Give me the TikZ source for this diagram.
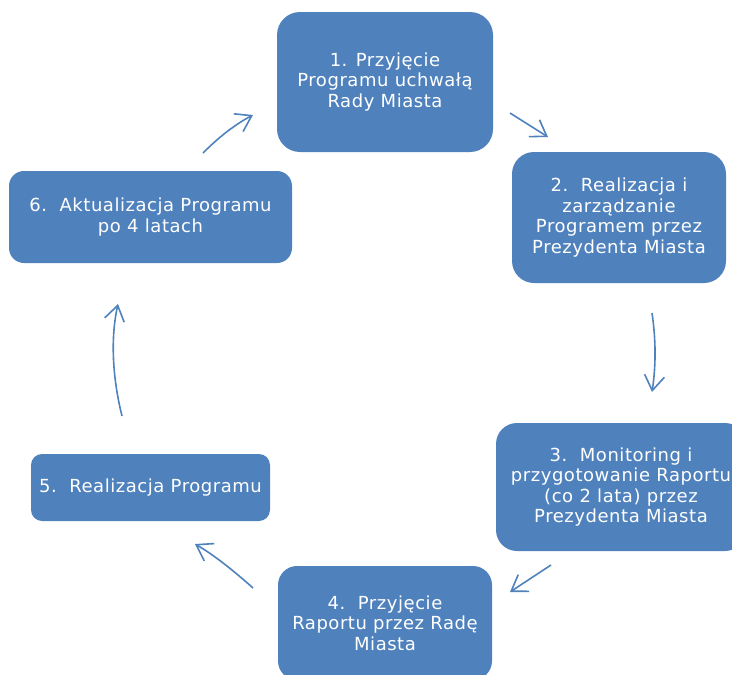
\documentclass[tikz,border=0pt]{standalone}
\usepackage{fontspec}
\setmainfont{DejaVu Sans}[LetterSpace=3]
\usetikzlibrary{arrows.meta}
\definecolor{cyclebl}{RGB}{79,129,189}
\begin{document}
\begin{tikzpicture}[x=1pt,y=-1pt,
    box/.style={fill=cyclebl,text=white,align=center,inner sep=0pt,
      font=\fontsize{18}{20.5}\selectfont},
    flow/.style={draw=cyclebl,line width=1.6pt,
      -{Straight Barb[length=15pt,width=20pt,line width=1.6pt]}}]

        \clip (0,0) rectangle (732,675);

        \begin{scope}[every node/.style={box}]
          \node[minimum width=216pt,minimum height=140pt,rounded corners=23pt] (1) at (385,82)
            {1. Przyjęcie\\Programu uchwałą\\Rady Miasta};
          \node[minimum width=214pt,minimum height=131pt,rounded corners=22pt] (2) at (619,217.5)
            {2.~~Realizacja i\\zarządzanie\\Programem przez\\Prezydenta Miasta};
          \node[minimum width=250pt,minimum height=128pt,rounded corners=21pt] (3) at (621,487)
            {3.~~Monitoring i\\przygotowanie Raportu\\(co 2 lata) przez\\Prezydenta Miasta};
          \node[minimum width=214pt,minimum height=114pt,rounded corners=19pt] (4) at (385,623)
            {4.~~Przyjęcie\\Raportu przez Radę\\Miasta};
          \node[minimum width=239pt,minimum height=67pt,rounded corners=11pt] (5) at (150.5,487.5)
            {5.~~Realizacja Programu};
          \node[minimum width=283pt,minimum height=92pt,rounded corners=15pt] (6) at (150.5,217)
            {6.~~Aktualizacja Programu\\po 4 latach};
        \end{scope}

        % arrow ends between the boxes
        \coordinate (1s) at (510,113);
        \coordinate (1e) at (548,137);
        \coordinate (2s) at (652,313);
        \coordinate (2e) at (652,392);
        \coordinate (3s) at (551,565);
        \coordinate (3e) at (510,592);
        \coordinate (4s) at (253,588);
        \coordinate (4e) at (195,544);
        \coordinate (5s) at (122,416);
        \coordinate (5e) at (118,304);
        \coordinate (6s) at (203,153);
        \coordinate (6e) at (253,115);

        \begin{scope}[every path/.style={flow}]
          \draw (1s) -- (1e);
          \draw (2s) .. controls (656,340) and (656,366) .. (2e);
          \draw (3s) -- (3e);
          \draw (4s) .. controls (234,571) and (214,555) .. (4e);
          \draw (5s) .. controls (113,380) and (110,340) .. (5e);
          \draw (6s) .. controls (218,138) and (234,125) .. (6e);
        \end{scope}

      \end{tikzpicture}
\end{document}
